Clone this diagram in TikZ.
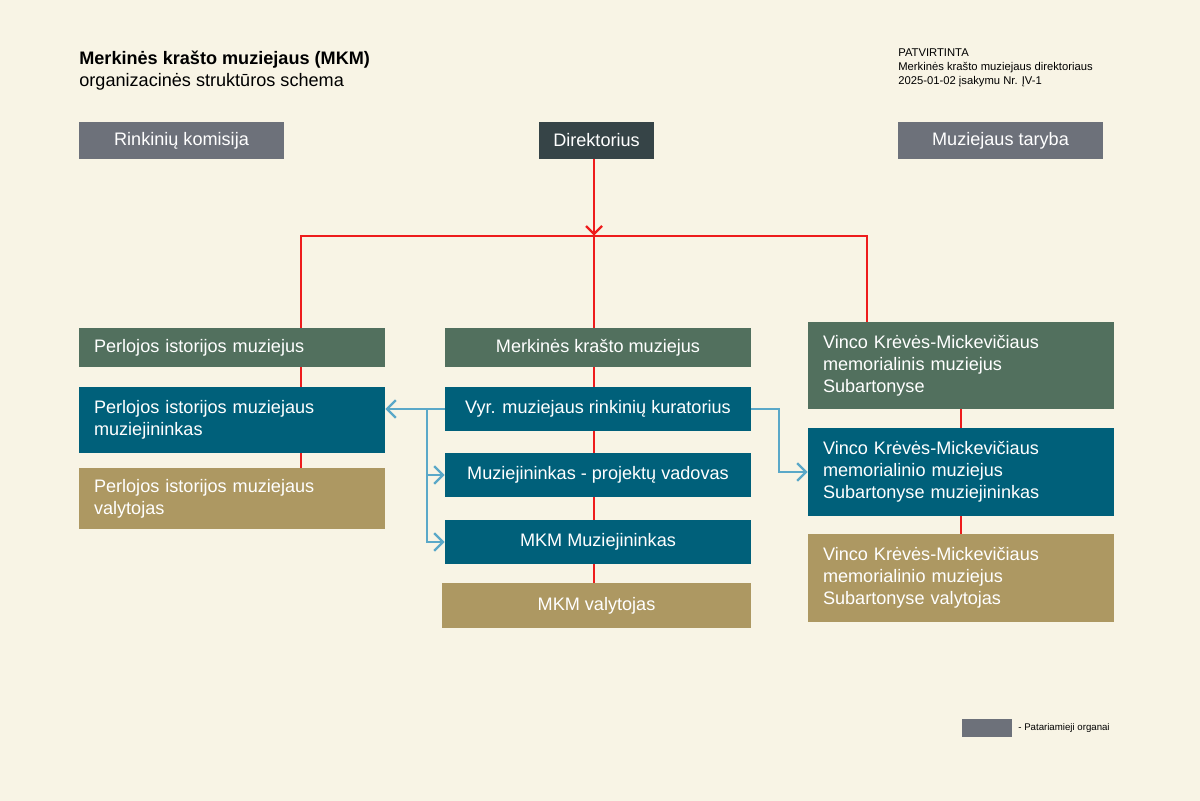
\documentclass[tikz,border=0pt]{standalone}
\usepackage{fontspec}
\setmainfont{Liberation Sans}
\usetikzlibrary{arrows.meta}
\definecolor{bg}{HTML}{F8F4E5}
\definecolor{adv}{HTML}{6D717A}
\definecolor{dir}{HTML}{364447}
\definecolor{grn}{HTML}{52705E}
\definecolor{blu}{HTML}{00607A}
\definecolor{tan}{HTML}{AD9862}
\definecolor{lbl}{HTML}{5AA8C8}
\definecolor{rd}{HTML}{EE1C1C}
\begin{document}
\begin{tikzpicture}[x=0.02cm,y=-0.02cm,
  box/.style={fill=#1,text=white,font=\fontsize{10.3}{12.5}\selectfont,inner sep=0pt},
  red/.style={draw=rd,line width=1.3pt},
  blue/.style={draw=lbl,line width=1.3pt,-{Straight Barb[length=5pt,width=10pt]}}]
\fill[bg] (0,0) rectangle (1200,801);
\useasboundingbox (0,0) rectangle (1200,801);
% helper macro for boxes
\newcommand\bx[7]{\fill[#6] (#2,#3) rectangle (#4,#5); \coordinate (#1) at ({(#2+#4)/2},{(#3+#5)/2});}
% red lines first
\draw[red] (594,159) -- (594,236);
\draw[red] (586,226) -- (594,234) -- (602,226);
\draw[red] (301,328) -- (301,236) -- (867,236) -- (867,322);
\draw[red] (594,236) -- (594,583);
\draw[red] (301,367) -- (301,468);
\draw[red] (961,409) -- (961,534);
% top
\node[box=adv,minimum width=205*0.02cm,minimum height=37*0.02cm] (rk) at (181.5,140.5) {Rinkinių komisija};
\node[box=dir,minimum width=115*0.02cm,minimum height=37*0.02cm] (dr) at (596.5,140.5) {Direktorius};
\node[box=adv,minimum width=205*0.02cm,minimum height=37*0.02cm] (mt) at (1000.5,140.5) {Muziejaus taryba};
% left
\node[box=grn,minimum width=306*0.02cm,minimum height=39*0.02cm,text width=276*0.02cm,align=left] (l1) at (232,347.5) {Perlojos istorijos muziejus};
\node[box=blu,minimum width=306*0.02cm,minimum height=66*0.02cm,text width=276*0.02cm,align=left] (l2) at (232,420) {Perlojos istorijos muziejaus\\muziejininkas};
\node[box=tan,minimum width=306*0.02cm,minimum height=61*0.02cm,text width=276*0.02cm,align=left] (l3) at (232,498.5) {Perlojos istorijos muziejaus\\valytojas};
% middle
\node[box=grn,minimum width=306*0.02cm,minimum height=39*0.02cm] (m1) at (598,347.5) {Merkinės krašto muziejus};
\node[box=blu,minimum width=306*0.02cm,minimum height=44*0.02cm] (m2) at (598,409) {Vyr. muziejaus rinkinių kuratorius};
\node[box=blu,minimum width=306*0.02cm,minimum height=44*0.02cm] (m3) at (598,475) {Muziejininkas - projektų vadovas};
\node[box=blu,minimum width=306*0.02cm,minimum height=44*0.02cm] (m4) at (598,542) {MKM Muziejininkas};
\node[box=tan,minimum width=309*0.02cm,minimum height=45*0.02cm] (m5) at (596.5,605.5) {MKM valytojas};
% right
\node[box=grn,minimum width=306*0.02cm,minimum height=87*0.02cm,text width=276*0.02cm,align=left] (r1) at (961,365.5) {Vinco Krėvės-Mickevičiaus\\memorialinis muziejus\\Subartonyse};
\node[box=blu,minimum width=306*0.02cm,minimum height=88*0.02cm,text width=276*0.02cm,align=left] (r2) at (961,472) {Vinco Krėvės-Mickevičiaus\\memorialinio muziejus\\Subartonyse muziejininkas};
\node[box=tan,minimum width=306*0.02cm,minimum height=88*0.02cm,text width=276*0.02cm,align=left] (r3) at (961,578) {Vinco Krėvės-Mickevičiaus\\memorialinio muziejus\\Subartonyse valytojas};
% blue connectors
\draw[blue] (m2.west) -- (l2.east |- m2.west);
\draw[blue] (427,409) |- (m3.west);
\draw[blue] (427,409) |- (m4.west);
\draw[blue] (m2.east) -- (779,409) |- (r2.west);
% titles
\node[anchor=west,font=\fontsize{10.3}{12.5}\selectfont\bfseries,inner sep=0pt] (t1) at (79,60) {Merkinės krašto muziejaus (MKM)};
\node[anchor=west,font=\fontsize{10.3}{12.5}\selectfont,inner sep=0pt] (t2) at (79,82) {organizacinės struktūros schema};
\node[anchor=north west,align=left,font=\fontsize{6.4}{8}\selectfont,inner sep=0pt] (ap) at (898,48) {PATVIRTINTA\\Merkinės krašto muziejaus direktoriaus\\2025-01-02 įsakymu Nr. ĮV-1};
% legend
\fill[adv] (962,719) rectangle (1012,737);
\node[anchor=west,font=\fontsize{5.5}{7}\selectfont,inner sep=0pt] (lg) at (1018,728) {- Patariamieji organai};
\end{tikzpicture}
\end{document}
